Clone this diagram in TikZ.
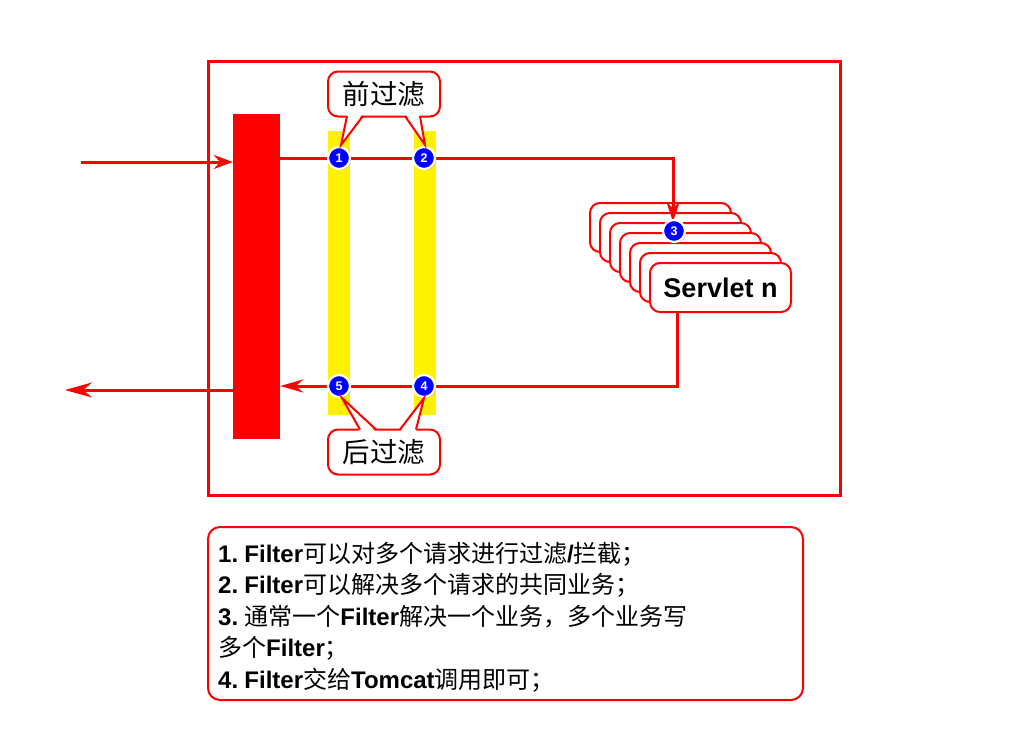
\documentclass[tikz,border=0pt]{standalone}
\usepackage{fontspec}
\setmainfont{Liberation Sans}
\newfontfamily\cjk{Noto Sans CJK SC}
\usetikzlibrary{arrows.meta,shadows}
\newcommand\zh[1]{{\cjk\mdseries #1}}
\newcommand\notefont{\bfseries\fontsize{24}{30}\selectfont\spaceskip=4pt plus 1pt minus 1pt\relax}
\begin{document}
\begin{tikzpicture}[x=1pt,y=-1pt,
  conn/.style={draw=red, line width=3pt},
  numc/.style={circle, fill=blue, draw=white, line width=2.2pt, minimum size=22pt, inner sep=0pt, text=white,
    font=\bfseries\fontsize{12.5}{12.5}\selectfont,
    drop shadow={shadow xshift=1.3pt, shadow yshift=-1.3pt, opacity=0.4}},
  callout/.style={draw=red, line width=2pt, fill=white, rounded corners=10pt, minimum width=112pt,
    minimum height=45pt, inner sep=0pt, font=\cjk\fontsize{27.5}{27.5}\selectfont},
  ptr/.style={draw=red, line width=2pt, line join=miter},
  servbox/.style={draw=red, line width=2pt, fill=white, rounded corners=10pt, minimum width=141pt,
    minimum height=49pt, inner sep=0pt},
  filt/.style={fill=yellow, minimum width=22pt, minimum height=284pt, inner sep=0pt},
  noteline/.style={anchor=base west, inner sep=0pt, font=\notefont}
]
\useasboundingbox (0,0) rectangle (1024,748);
\fill[white] (0,0) rectangle (1024,748);

% frame
\node[draw=red, line width=3pt, minimum width=632pt, minimum height=434pt, inner sep=0pt] (frame) at (524,278) {};

% filters and container bar
\node[filt] (y1) at (339,273) {};
\node[filt] (y2) at (424.5,273) {};
\node[fill=red, minimum width=47pt, minimum height=325pt, inner sep=0pt] (bar) at (256.5,276.5) {};

% servlet stack
\foreach \k in {0,...,5}{
  \node[servbox] (s\k) at (660.5+10*\k, 227.5+10*\k) {};
}
\node[servbox, font=\bfseries\fontsize{27}{27}\selectfont] (s6) at (720.5,287.5) {Servlet n};

% points
\coordinate (p1) at (339,158);
\coordinate (p2) at (424,158);
\coordinate (p3) at (674,231);
\coordinate (p4) at (424,386);
\coordinate (p5) at (339,386);
\coordinate (src) at (81,162);
\coordinate (out) at (65,390);
\coordinate (t1) at (673,158);
\coordinate (b1) at (677,386);

% connectors
\draw[conn, -{Stealth[length=19pt,width=14pt]}] (src) -- (bar.west |- src);
\draw[conn, -{Stealth[length=20pt,width=13pt]}] (bar.east |- p1) -- (p1) -- (p2) -- (t1) -- (t1 |- s2.north);
\draw[conn, -{Stealth[length=23pt,width=13pt]}] (b1 |- s6.south) -- (b1) -- (p4) -- (p5) -- (bar.east |- p5);
\draw[conn, -{Stealth[length=27pt,width=15pt]}] (bar.west |- out) -- (out);

% numbered circles
\node[numc] (c1) at (p1) {1};
\node[numc] (c2) at (p2) {2};
\node[numc] (c3) at (p3) {3};
\node[numc] (c4) at (p4) {4};
\node[numc] (c5) at (p5) {5};

% callouts
\node[callout] (pre) at (384,94) {前过滤};
\fill[white] (347,113) -- (341,145) -- (363,113) -- cycle;
\draw[ptr] (347,116) -- (341,145) -- (363,116);
\fill[white] (405,113) -- (425,145) -- (420,113) -- cycle;
\draw[ptr] (405,116) -- (425,145) -- (420,116);

\node[callout] (post) at (384,452) {后过滤};
\fill[white] (360,432) -- (342,398) -- (376,432) -- cycle;
\draw[ptr] (360,429.5) -- (342,398) -- (376,429.5);
\fill[white] (400,432) -- (424,398) -- (416,432) -- cycle;
\draw[ptr] (400,429.5) -- (424,398) -- (416,429.5);

% notes
\node[draw=red, line width=2pt, rounded corners=12pt, minimum width=595pt, minimum height=173pt, inner sep=0pt] (notes) at (505.5,613.5) {};
\node[noteline] (l1) at (218,562) {1. Filter\zh{可以对多个请求进行过滤}/\zh{拦截；}};
\node[noteline] (l2) at (218,593.5) {2. Filter\zh{可以解决多个请求的共同业务；}};
\node[noteline] (l3) at (218,625) {3. \zh{通常一个}Filter\zh{解决一个业务，多个业务写}};
\node[noteline] (l4) at (218,656.5) {\zh{多个}Filter\zh{；}};
\node[noteline] (l5) at (218,688) {4. Filter\zh{交给}Tomcat\zh{调用即可；}};
\end{tikzpicture}
\end{document}
